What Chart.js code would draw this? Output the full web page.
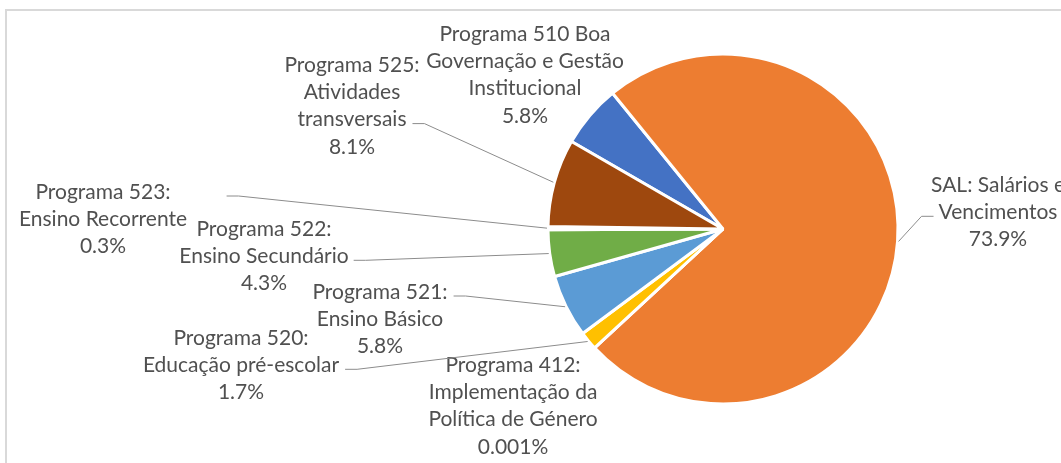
<!DOCTYPE html>
<html>
<head>
<meta charset="utf-8">
<script src="https://cdn.jsdelivr.net/npm/chart.js@4"></script>
<style>
    html, body { margin: 0; padding: 0; background: #fff; }
    #wrap { width: 1061px; height: 463px; position: relative; }
</style>
</head>
<body>
<div id="wrap"><canvas id="budgetChart"></canvas></div>
<script>
// programas, na ordem em que as fatias são desenhadas
const categories = [
    ['Programa 510 Boa', 'Governação e Gestão', 'Institucional'],
    ['SAL: Salários e', 'Vencimentos'],
    ['Programa 412:', 'Implementação da', 'Política de Género'],
    ['Programa 520:', 'Educação pré-escolar'],
    ['Programa 521:', 'Ensino Básico'],
    ['Programa 522:', 'Ensino Secundário'],
    ['Programa 523:', 'Ensino Recorrente'],
    ['Programa 525:', 'Atividades', 'transversais']
];
const shares = [5.8, 73.9, 0.001, 1.7, 5.8, 4.3, 0.3, 8.1];
const colors = ['#4472C4', '#ED7D31', '#A5A5A5', '#FFC000', '#5B9BD5', '#70AD47', '#264478', '#9E480E'];

// onde fica cada rótulo em relação ao centro da tarta, e a que linha liga o traço
const labelLayout = [
    { dx: -198, dy: -195, lead: null },
    { dx: 275, dy: -44, lead: { line: 1, side: 'left', gap: 5 } },
    { dx: -210, dy: 136, lead: null },
    { dx: -482, dy: 109, lead: { line: 1, side: 'right', gap: 6 } },
    { dx: -343, dy: 63, lead: { line: 0, side: 'right', gap: 6 } },
    { dx: -459, dy: 0, lead: { line: 1, side: 'right', gap: 5 } },
    { dx: -620, dy: -37, lead: { line: 0, side: 'right', gap: 56 } },
    { dx: -371, dy: -164, lead: { line: 2, side: 'right', gap: 6 } }
];

const labelFont = '21px Lato';
const lineHeight = 27.3;

const frame = {
    id: 'frame',
    beforeDraw(chart) {
        const ctx = chart.ctx;
        ctx.save();
        ctx.strokeStyle = '#d9d9d9';
        ctx.lineWidth = 2;
        ctx.beginPath();
        ctx.moveTo(6, chart.height);
        ctx.lineTo(6, 10);
        ctx.lineTo(chart.width, 10);
        ctx.stroke();
        ctx.restore();
    }
};

const sliceLabels = {
    id: 'sliceLabels',
    afterDatasetsDraw(chart) {
        const ctx = chart.ctx;
        const meta = chart.getDatasetMeta(0);
        ctx.save();
        ctx.font = labelFont;
        ctx.textAlign = 'center';
        ctx.textBaseline = 'middle';

        meta.data.forEach(function(arc, i) {
            const p = arc.getProps(['x', 'y', 'startAngle', 'endAngle', 'outerRadius'], true);
            const lay = labelLayout[i];
            const lines = categories[i].concat([String(shares[i]) + '%']);
            const cx = p.x + lay.dx;
            const top = p.y + lay.dy;

            ctx.fillStyle = '#505050';
            lines.forEach(function(txt, k) {
                ctx.fillText(txt, cx, top + k * lineHeight);
            });

            if (lay.lead) {
                const w = ctx.measureText(lines[lay.lead.line]).width;
                const ly = top + lay.lead.line * lineHeight + 4;
                const dir = lay.lead.side === 'right' ? 1 : -1;
                const x0 = cx + dir * (w / 2 + lay.lead.gap);
                const x1 = x0 + dir * 12;
                const mid = (p.startAngle + p.endAngle) / 2;
                const ex = p.x + Math.cos(mid) * (p.outerRadius + 1);
                const ey = p.y + Math.sin(mid) * (p.outerRadius + 1);
                ctx.strokeStyle = '#8c8c8c';
                ctx.lineWidth = 1;
                ctx.beginPath();
                ctx.moveTo(x0, ly);
                ctx.lineTo(x1, ly);
                ctx.lineTo(ex, ey);
                ctx.stroke();
            }
        });
        ctx.restore();
    }
};

const ctx = document.getElementById('budgetChart').getContext('2d');
const budgetChart = new Chart(ctx, {
    type: 'pie',
    data: {
        labels: categories,
        datasets: [{
            data: shares,
            backgroundColor: colors,
            borderColor: '#ffffff',
            borderWidth: 3,
            hoverOffset: 0
        }]
    },
    options: {
        responsive: true,
        maintainAspectRatio: false,
        animation: false,
        rotation: 300,
        radius: 175,
        layout: {
            padding: { left: 390, right: 5, top: 0, bottom: 5 }
        },
        plugins: {
            legend: { display: false },
            tooltip: { enabled: false }
        }
    },
    plugins: [frame, sliceLabels]
});
</script>
</body>
</html>
